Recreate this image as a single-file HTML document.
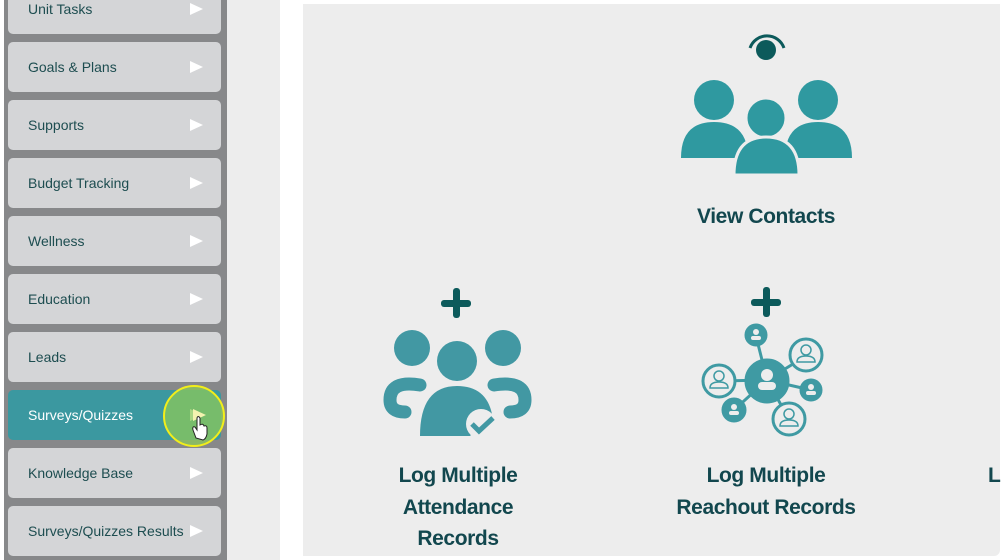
<!DOCTYPE html>
<html><head><meta charset="utf-8"><style>
body{margin:0;width:1004px;height:560px;background:#fff;position:relative;overflow:hidden;font-family:"Liberation Sans",sans-serif}
#sb{position:absolute;left:4px;top:0;width:223px;height:560px;background:#87888a}
#gap{position:absolute;left:227px;top:0;width:53px;height:560px;background:#ededed}
#panel{position:absolute;left:303px;top:4px;width:697px;height:552px;background:#ededed;border-radius:0 0 6px 0}
.b{position:absolute;left:8px;width:213px;height:50px;background:#d4d5d7;border-radius:5px;color:#1d4d50;font-size:14px;line-height:50px;box-sizing:border-box;padding-left:20px}
.b:after{content:"";position:absolute;right:18px;top:19px;border-left:13px solid #fff;border-top:6px solid transparent;border-bottom:6px solid transparent}
.b.on{background:#3b98a0;color:#fff}
.lbl{position:absolute;color:#12474e;font-weight:bold;font-size:21px;letter-spacing:-0.4px;text-align:center;line-height:31.5px}
</style></head><body>
<div id="sb"></div><div id="gap"></div><div id="panel"></div>
<div class="b" style="top:-16px">Unit Tasks</div>
<div class="b" style="top:42px">Goals &amp; Plans</div>
<div class="b" style="top:100px">Supports</div>
<div class="b" style="top:158px">Budget Tracking</div>
<div class="b" style="top:216px">Wellness</div>
<div class="b" style="top:274px">Education</div>
<div class="b" style="top:332px">Leads</div>
<div class="b on" style="top:390px">Surveys/Quizzes</div>
<div class="b" style="top:448px">Knowledge Base</div>
<div class="b" style="top:506px">Surveys/Quizzes Results</div>
<div style="position:absolute;left:163px;top:385px;width:62px;height:62px;border-radius:50%;border:2px solid #f2ee1a;background:rgba(140,200,90,.75);box-sizing:border-box"></div>
<div style="position:absolute;left:193px;top:409px;border-left:13px solid #f4f3b0;border-top:6px solid transparent;border-bottom:6px solid transparent"></div>
<svg width="1004" height="560" style="position:absolute;left:0;top:0">
<path d="M196 438 L193 430 Q192 426 195 427 L197 430 L197 418 Q198 415 200 418 L200 425 Q203 423 204 426 Q207 425 207 428 L207 434 Q206 439 203 440 Z" fill="#fff" stroke="#222" stroke-width="1"/>
<g fill="#2f99a0">
<path d="M750 48 A18 18 0 0 1 784 48" stroke="#0c5a5b" stroke-width="3" fill="none"/>
<circle cx="766" cy="50" r="10" fill="#0c5a5b"/>
<circle cx="714" cy="100" r="20"/><path d="M681 158 Q681 122 714 122 Q748 122 748 158 Z"/>
<circle cx="818" cy="100" r="20"/><path d="M785 158 Q785 122 818 122 Q852 122 852 158 Z"/>
<circle cx="766" cy="118" r="20" stroke="#ededed" stroke-width="3"/><path d="M734 175 Q734 137 766 137 Q799 137 799 175 Z" stroke="#ededed" stroke-width="3"/>
</g>
<g fill="#0c5a5b"><rect x="441" y="300" width="30" height="7" rx="3"/><rect x="453" y="288" width="7" height="30" rx="3"/>
<rect x="751" y="299" width="30" height="7" rx="3"/><rect x="763" y="287" width="7" height="30" rx="3"/></g>
<g fill="#4298a3">
<circle cx="412" cy="348" r="18"/><circle cx="503" cy="348" r="18"/><circle cx="457" cy="361" r="20"/>
<path d="M420 385 Q390 380 390 400 Q390 412 405 412" stroke="#4298a3" stroke-width="13" fill="none" stroke-linecap="round"/>
<path d="M494 385 Q525 380 525 400 Q525 412 510 412" stroke="#4298a3" stroke-width="13" fill="none" stroke-linecap="round"/>
<path d="M420 436 Q420 386 457 386 Q486 386 492 414 L470 436 Z"/>
<circle cx="481" cy="424" r="15" fill="#ededed"/>
<path d="M472 424 L479 431 L493 418" stroke="#4298a3" stroke-width="5" fill="none"/>
</g>
<g stroke="#3f9aa3" stroke-width="3" fill="#3f9aa3">
<line x1="767" y1="380" x2="756" y2="336"/><line x1="767" y1="380" x2="806" y2="356"/><line x1="767" y1="380" x2="811" y2="390"/>
<line x1="767" y1="380" x2="719" y2="381"/><line x1="767" y1="380" x2="734" y2="410"/><line x1="767" y1="380" x2="789" y2="419"/>
<circle cx="767" cy="381" r="21"/><circle cx="756" cy="335" r="10"/><circle cx="811" cy="390" r="10"/><circle cx="734" cy="410" r="11"/>
<circle cx="806" cy="355" r="16" fill="#ededed"/><circle cx="719" cy="381" r="16" fill="#ededed"/><circle cx="789" cy="419" r="16" fill="#ededed"/>
</g>
<g fill="#ededed"><circle cx="767" cy="375" r="6"/><rect x="758" y="382" width="18" height="8" rx="4"/>
<circle cx="756" cy="332" r="3"/><rect x="751" y="336" width="10" height="4" rx="2"/>
<circle cx="811" cy="387" r="3"/><rect x="806" y="391" width="10" height="4" rx="2"/>
<circle cx="734" cy="407" r="3"/><rect x="729" y="411" width="10" height="4" rx="2"/></g>
<g fill="none" stroke="#3f9aa3" stroke-width="1.5">
<circle cx="806" cy="350" r="5"/><path d="M797 362 Q797 356 806 356 Q815 356 815 362 Z"/>
<circle cx="719" cy="376" r="5"/><path d="M710 388 Q710 382 719 382 Q728 382 728 388 Z"/>
<circle cx="789" cy="414" r="5"/><path d="M780 426 Q780 420 789 420 Q798 420 798 426 Z"/>
</g>
</svg>
<div class="lbl" style="left:666px;top:201px;width:200px">View Contacts</div>
<div class="lbl" style="left:358px;top:460px;width:200px">Log Multiple<br>Attendance<br>Records</div>
<div class="lbl" style="left:656px;top:460px;width:220px">Log Multiple<br>Reachout Records</div>
<div class="lbl" style="left:988px;top:460px;width:20px;text-align:left">L</div>
</body></html>
